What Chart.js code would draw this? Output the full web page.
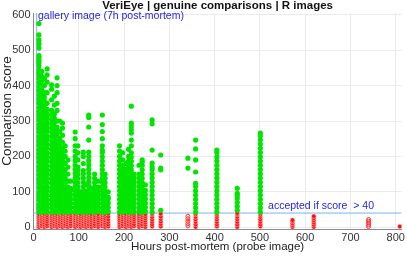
<!DOCTYPE html>
<html>
<head>
<meta charset="utf-8">
<script src="https://cdn.jsdelivr.net/npm/chart.js@4"></script>
<style>
  body { margin: 0; background: #fff; }
  #wrap { width: 407px; height: 257px; position: relative; }
</style>
</head>
<body>
<div id="wrap"><canvas id="scoreChart"></canvas></div>
<script>
// hours post-mortem of the probe image, one entry per column of points
const greenHours = [12, 18, 24, 30, 40, 46, 52, 58, 64, 70, 76, 82, 92, 98, 104, 110, 116, 122, 128, 135,
  143, 152, 158, 165, 190, 197, 204, 210, 216, 222, 233, 240, 247, 262, 281, 341, 358, 405, 450, 501];

// accepted comparison scores (> 40), read column by column
const greenScores = [
  [43, 54, 64, 77, 88, 99, 112, 124, 135, 148, 160, 171, 184, 196, 207, 219, 232, 243, 255, 268, 279, 290, 303, 315, 326, 338, 351, 362, 374, 386, 397, 409, 421, 433, 444, 456, 465, 472, 480, 485, 506, 518, 529, 543, 575],
  [42, 53, 66, 78, 89, 101, 113, 126, 137, 150, 161, 173, 186, 198, 209, 221, 234, 246, 257, 270, 281, 293, 306, 318, 329, 341, 354, 366, 377, 389, 402, 414, 426, 440],
  [44, 56, 67, 79, 91, 102, 114, 127, 139, 150, 163, 175, 186, 199, 211, 222, 235, 247, 258, 271, 283, 295, 308, 319, 331, 344, 356, 368, 380, 400, 420],
  [43, 55, 66, 78, 90, 103, 114, 126, 138, 151, 162, 174, 187, 199, 210, 223, 235, 248, 259, 272, 284, 296, 309, 321, 333, 350, 380, 410, 430, 447],
  [42, 54, 65, 77, 89, 101, 112, 124, 136, 148, 160, 172, 184, 196, 208, 220, 232, 244, 256, 268, 280, 292, 304, 316, 330, 360, 390, 402],
  [44, 56, 68, 80, 92, 104, 116, 128, 140, 152, 164, 176, 188, 200, 212, 224, 236, 248, 260, 272, 284, 296, 308, 320, 345, 370],
  [43, 55, 67, 79, 91, 103, 115, 127, 139, 151, 163, 175, 187, 199, 211, 223, 235, 247, 259, 271, 283, 300, 330, 350, 380, 400, 422],
  [42, 54, 66, 78, 90, 102, 114, 126, 138, 150, 162, 174, 186, 198, 210, 222, 236, 250, 270, 300],
  [44, 56, 68, 80, 92, 104, 116, 128, 140, 152, 164, 176, 188, 200, 212, 224, 240, 260, 280, 294],
  [43, 55, 67, 79, 91, 103, 115, 127, 139, 151, 163, 180, 200, 215, 230],
  [42, 54, 66, 78, 90, 102, 114, 130, 150, 170, 190],
  [44, 56, 68, 80, 92, 104, 110, 130],
  [43, 55, 67, 79, 91, 103, 115, 127, 139, 151, 163, 175, 188, 200, 215, 230, 250, 269],
  [42, 54, 66, 78, 90, 102, 114, 126, 138, 150, 162, 170, 190, 210, 230],
  [44, 56, 68, 80, 92, 100],
  [43, 55, 67, 79, 91, 103, 115, 127, 139, 151, 160, 180, 200, 212],
  [42, 54, 66, 78, 90, 102, 120],
  [44, 56, 68, 80, 92, 104, 116, 128, 140, 152, 164, 176, 188, 200, 212, 246, 283, 310, 317],
  [43, 55, 67, 79, 91, 103, 110],
  [42, 54, 66, 78, 90, 102, 114, 126, 138, 150],
  [44, 56, 68, 80, 92, 104, 113, 130],
  [43, 55, 67, 79, 91, 103, 115, 127, 139, 151, 163, 175, 187, 199, 211, 218, 230, 250, 270, 290, 317],
  [42, 54, 66, 78, 90, 102, 114, 126, 138, 150],
  [44, 56, 68, 80, 85, 100],
  [43, 55, 67, 79, 91, 103, 115, 127, 139, 151, 163, 175, 187, 200, 215, 230],
  [42, 54, 66, 78, 90, 102, 114, 126, 138, 150, 162, 174, 190, 210],
  [44, 56, 68, 80, 92, 104, 116, 128, 140, 152, 164, 180],
  [43, 55, 67, 79, 91, 103, 115, 127, 139, 151, 163, 175, 187, 200, 220],
  [42, 54, 66, 78, 90, 102, 114, 126, 138, 150, 162, 174, 186, 198, 210, 230, 246, 266, 275, 285, 294, 342],
  [44, 56, 68, 80, 92, 104, 116, 128, 140, 150],
  [43, 55, 67, 79, 91, 103, 115, 127, 139, 150, 175],
  [42, 54, 66, 78, 90, 102, 114, 126, 138, 150, 162, 175, 184, 190],
  [44, 56, 68, 80, 92, 104, 120],
  [43, 55, 67, 79, 91, 103, 115, 127, 139, 151, 163, 170, 181, 218, 292, 303],
  [48, 162, 167, 204],
  [167, 195],
  [43, 55, 67, 79, 91, 103, 115, 124, 156, 190, 221, 246],
  [43, 55, 67, 79, 91, 103, 115, 127, 139, 151, 163, 175, 187, 199, 211, 218],
  [48, 59, 70, 82, 90, 96, 110],
  [43, 55, 67, 79, 91, 103, 115, 127, 139, 151, 163, 175, 187, 199, 211, 223, 235, 247, 258, 266]
];

const redHours = [12, 18, 24, 30, 40, 46, 52, 58, 64, 70, 76, 82, 92, 98, 104, 110, 116, 122, 128, 135,
  143, 152, 158, 165, 190, 197, 204, 210, 216, 222, 233, 240, 247, 262, 281, 358, 405, 450, 501,
  572, 619, 809];

// rejected comparison scores (<= 40)
const redScores = [
  [1, 7, 13, 19, 25, 31, 37], [3, 9, 16, 22, 28, 34, 40], [1, 7, 13, 19, 25, 31, 37], [3, 9, 16, 22, 28, 34, 40],
  [1, 7, 13, 19, 25, 31, 37], [3, 9, 16, 22, 28, 34, 40], [1, 7, 13, 19, 25, 31, 37], [3, 9, 16, 22, 28, 34, 40],
  [1, 7, 13, 19, 25, 31, 37], [3, 9, 16, 22, 28, 34, 40], [1, 7, 13, 19, 25, 31, 37], [3, 9, 16, 22, 28, 34, 40],
  [1, 7, 13, 19, 25, 31, 37], [3, 9, 16, 22, 28, 34, 40], [1, 7, 13, 19, 25, 31, 37], [3, 9, 16, 22, 28, 34, 40],
  [1, 7, 13, 19, 25, 31, 37], [3, 9, 16, 22, 28, 34, 40], [1, 7, 13, 19, 25, 31, 37], [3, 9, 16, 22, 28, 34, 40],
  [1, 7, 13, 19, 25, 31, 37], [3, 9, 16, 22, 28, 34, 40], [1, 7, 13, 19, 25, 31, 37], [2, 8, 15, 22, 30, 38],
  [1, 7, 13, 19, 25, 31, 37], [3, 9, 16, 22, 28, 34, 40], [1, 7, 13, 19, 25, 31, 37], [3, 9, 16, 22, 28, 34, 40],
  [1, 7, 13, 19, 25, 31, 37], [3, 9, 16, 22, 28, 34, 40], [1, 7, 13, 19, 25, 31, 37], [3, 9, 16, 22, 28, 34, 40],
  [1, 7, 13, 19, 25, 31, 37], [2, 8, 15, 22, 29, 36, 40], [2, 9, 16, 23, 30, 38],
  [1, 8, 15, 22, 29, 36, 40], [2, 8, 15, 22, 29, 35, 40], [1, 8, 15, 22, 29, 36, 40], [2, 8, 15, 22, 29, 35, 40],
  [1, 6, 11, 16, 20], [1, 7, 13, 19, 25, 31], [2]
];

// sparse columns drawn as open circles
const openHours = [341, 740];
const openScores = [[4, 10, 17, 24, 31], [2, 7, 12, 17, 22]];

const galleryHour = 7;
const acceptThreshold = 40;
const xTicks = [0, 100, 200, 300, 400, 500, 600, 700, 800];
const yTicks = [0, 100, 200, 300, 400, 500, 600];

function toPoints(hours, scores) {
  const pts = [];
  hours.forEach((h, i) => scores[i].forEach(s => pts.push({x: h, y: s})));
  return pts;
}

const font = '"Liberation Sans", Arial, sans-serif';

const notes = {
  id: 'notes',
  afterDatasetsDraw(chart) {
    const {ctx, scales: {x, y}} = chart;
    ctx.save();
    ctx.fillStyle = '#2424e8';
    ctx.font = '10.5px ' + font;
    ctx.textBaseline = 'middle';
    ctx.textAlign = 'left';
    ctx.fillText('gallery image (7h post-mortem)', x.getPixelForValue(10), y.getPixelForValue(597));
    ctx.fillText('accepted if score  > 40', x.getPixelForValue(518), y.getPixelForValue(60));
    // y axis title, a bit above the axis centre like the original
    ctx.fillStyle = '#222';
    ctx.font = '13.5px ' + font;
    ctx.textAlign = 'center';
    ctx.translate(7, y.getPixelForValue(328));
    ctx.rotate(-Math.PI / 2);
    ctx.fillText('Comparison score', 0, 0);
    ctx.restore();
  }
};

const ctx = document.getElementById('scoreChart').getContext('2d');
const scoreChart = new Chart(ctx, {
  type: 'scatter',
  data: {
    datasets: [
      {
        data: toPoints(greenHours, greenScores),
        pointRadius: 2.6,
        pointBorderWidth: 0,
        backgroundColor: '#00e600',
        order: 1
      },
      {
        data: toPoints(redHours, redScores),
        pointRadius: 2.3,
        pointBorderWidth: 0.5,
        borderColor: 'rgba(255,235,235,0.9)',
        backgroundColor: '#ff0d0d',
        order: 2
      },
      {
        data: toPoints(openHours, openScores),
        pointRadius: 2,
        pointBorderWidth: 1,
        borderColor: '#ff3030',
        backgroundColor: 'rgba(255,255,255,0)',
        order: 2
      },
      {
        type: 'line',
        data: [{x: galleryHour, y: -5}, {x: galleryHour, y: 605}],
        borderColor: '#7db4e4',
        borderWidth: 1,
        pointRadius: 0,
        order: 3
      },
      {
        type: 'line',
        data: [{x: 0, y: acceptThreshold}, {x: 813, y: acceptThreshold}],
        borderColor: '#7db4e4',
        borderWidth: 1,
        pointRadius: 0,
        order: 3
      }
    ]
  },
  options: {
    responsive: true,
    maintainAspectRatio: false,
    animation: false,
    events: [],
    layout: {padding: {left: 0, right: 2, top: 0, bottom: 0}},
    plugins: {
      legend: {display: false},
      tooltip: {enabled: false},
      title: {
        display: true,
        fullSize: false,
        text: 'VeriEye | genuine comparisons | R images',
        color: '#111',
        font: {family: font, size: 11.5, weight: 'bold', lineHeight: 1},
        padding: {top: 0, bottom: 1.5}
      }
    },
    scales: {
      x: {
        type: 'linear',
        min: 0,
        max: 813,
        afterBuildTicks: s => { s.ticks = xTicks.map(v => ({value: v})); },
        afterFit: s => { s.height = 28; },
        grid: {color: '#ebebeb', drawTicks: false},
        border: {color: '#8a8a8a'},
        ticks: {color: '#333', padding: 2, font: {family: font, size: 11}, maxRotation: 0},
        title: {
          display: true,
          text: 'Hours post-mortem (probe image)',
          color: '#222',
          font: {family: font, size: 11.5, lineHeight: 1.2},
          padding: {top: 0, bottom: 3}
        }
      },
      y: {
        type: 'linear',
        min: -5,
        max: 605,
        afterBuildTicks: s => { s.ticks = yTicks.map(v => ({value: v})); },
        afterFit: s => { s.width = 33.5; },
        grid: {color: '#ebebeb', drawTicks: false},
        border: {color: '#8a8a8a'},
        ticks: {color: '#333', padding: 3, font: {family: font, size: 11}}
      }
    }
  },
  plugins: [notes]
});
</script>
</body>
</html>
